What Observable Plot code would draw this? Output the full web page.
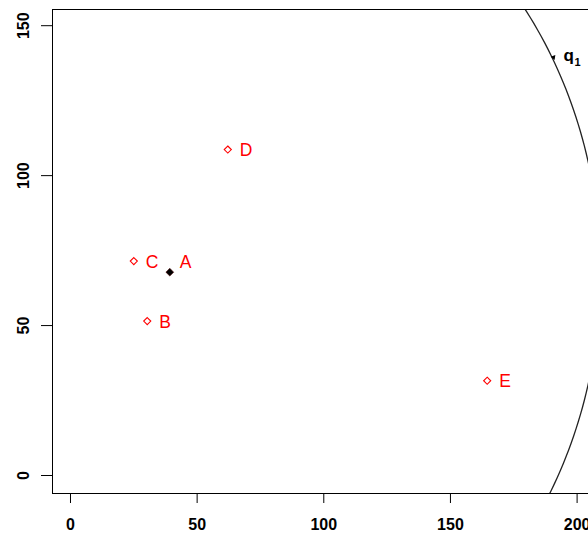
<!DOCTYPE html>
<html><head><meta charset="utf-8">
<script src="https://cdn.jsdelivr.net/npm/d3@7"></script>
<script src="https://cdn.jsdelivr.net/npm/@observablehq/plot@0.6"></script>
<style>body{margin:0;background:#fff;overflow:hidden} svg{display:block}</style>
</head><body><div id="chart"></div>
<script>
const labels = ["A", "B", "C", "D", "E"];
const xs = [39.2, 30.3, 25.0, 62.1, 164.5];
const ys = [67.8, 51.5, 71.5, 108.7, 31.6];
const highlighted = ["A"];
const xTicks = [0, 50, 100, 150, 200];
const yTicks = [0, 50, 100, 150];
const circleCenter = [64.2, 67.5];
const circleRadius = 145;
const q1Point = [190.7, 139.5];
const q1Text = ["q", "1"];
const xDomain = [-7.1, 204.5];
const yDomain = [-6.0, 155.4];

const points = labels.map((l, i) => ({label: l, x: xs[i], y: ys[i], hl: highlighted.includes(l)}));
const circle = d3.range(0, 361, 1).map(a => ({
  x: circleCenter[0] + circleRadius * Math.cos(a * Math.PI / 180),
  y: circleCenter[1] + circleRadius * Math.sin(a * Math.PI / 180)
}));
const q1 = [{x: q1Point[0], y: q1Point[1]}];

const plot = Plot.plot({
  width: 588, height: 533,
  marginLeft: 52, marginRight: 0, marginTop: 9, marginBottom: 40,
  style: {fontFamily: "'Liberation Sans', Arial, sans-serif", background: "#fff", color: "#000"},
  x: {domain: xDomain},
  y: {domain: yDomain},
  marks: [
    Plot.line(circle, {x: "x", y: "y", stroke: "#222", strokeWidth: 1.3, clip: true}),
    Plot.frame({stroke: "#000", strokeWidth: 1}),
    Plot.axisX({ticks: xTicks, tickSize: 10, tickPadding: 15, fontSize: 16, fontWeight: "bold", label: null, tickFormat: d => String(d)}),
    Plot.axisY({ticks: yTicks, tickSize: 11, tickPadding: 13, tickRotate: -90, fontSize: 16, fontWeight: "bold", label: null, tickFormat: d => String(d)}),
    Plot.dot(points.filter(d => !d.hl), {x: "x", y: "y", symbol: "diamond2", r: 3.2, stroke: "red", fill: "white", strokeWidth: 1.1}),
    Plot.dot(points.filter(d => d.hl), {x: "x", y: "y", symbol: "diamond2", r: 3.5, fill: "black", stroke: "#400", strokeWidth: 0.6}),
    Plot.text(points.filter(d => !d.hl), {x: "x", y: "y", text: "label", dx: 12, dy: 1, textAnchor: "start", fill: "red", fontSize: 17.5}),
    Plot.text(points.filter(d => d.hl), {x: "x", y: "y", text: "label", dx: 10, dy: -10, textAnchor: "start", fill: "red", fontSize: 17.5}),
    Plot.dot(q1, {x: "x", y: "y", symbol: "triangle2", rotate: 159, r: 2.4, fill: "#000"}),
    Plot.text(q1, {x: "x", y: "y", text: () => q1Text[0], dx: 10, dy: -2, textAnchor: "start", fontSize: 17, fontWeight: "bold", fill: "#000"}),
    Plot.text(q1, {x: "x", y: "y", text: () => q1Text[1], dx: 21, dy: 5, textAnchor: "start", fontSize: 11, fontWeight: "bold", fill: "#000"})
  ]
});
document.getElementById("chart").appendChild(plot);
</script>
</body></html>
